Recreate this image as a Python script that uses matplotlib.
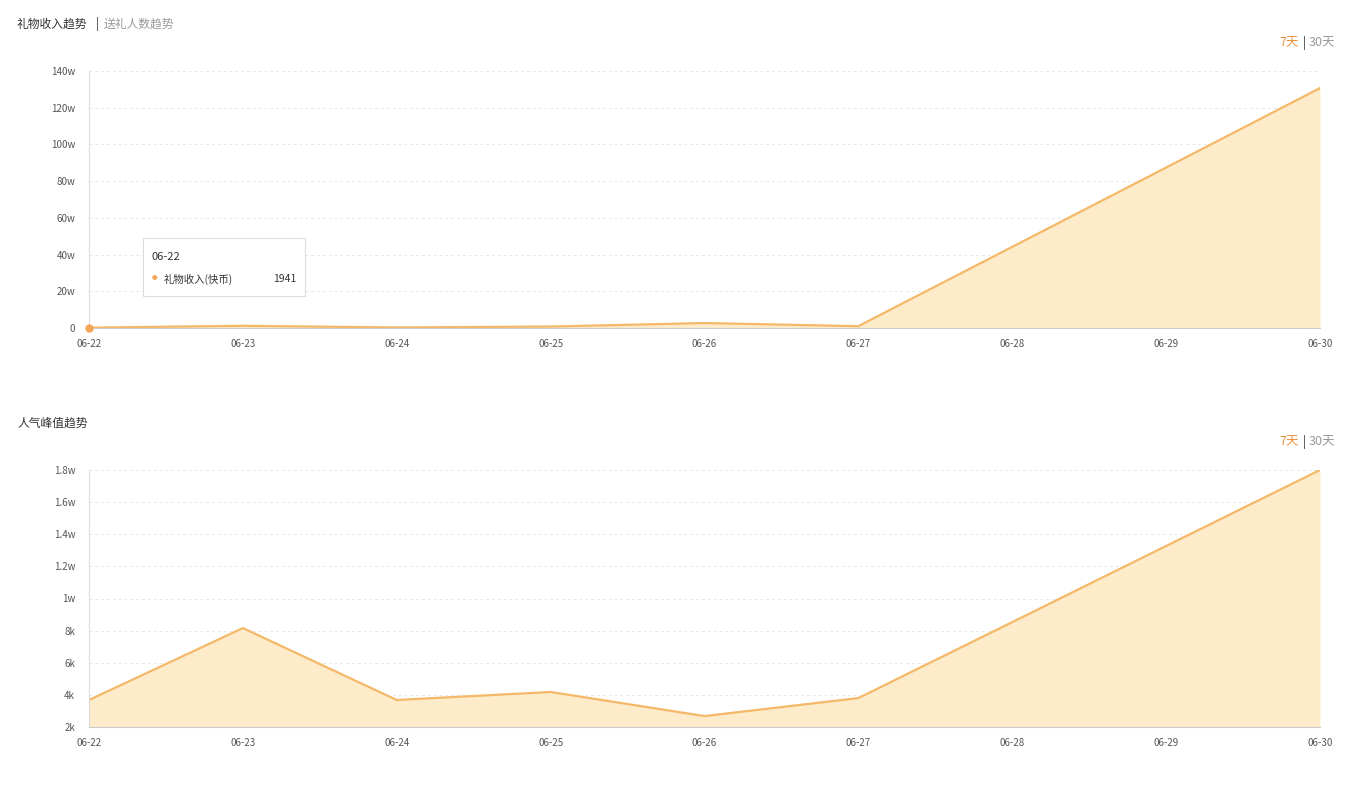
import matplotlib
matplotlib.use('Agg')
from matplotlib import pyplot as plt

plt.rcParams['font.family'] = ['Noto Sans CJK SC', 'DejaVu Sans']

dates = ['06-22', '06-23', '06-24', '06-25', '06-26', '06-27', '06-28', '06-29', '06-30']
gift_income = [1941, 12000, 3000, 8000, 27000, 10000, 442000, 874000, 1307000]   # 快币
peak_viewers = [3680, 8160, 3680, 4180, 2680, 3800, 8530, 13270, 18000]

gift_ticks = [0, 200000, 400000, 600000, 800000, 1000000, 1200000, 1400000]
gift_labels = ['0', '20w', '40w', '60w', '80w', '100w', '120w', '140w']
peak_ticks = [2000, 4000, 6000, 8000, 10000, 12000, 14000, 16000, 18000]
peak_labels = ['2k', '4k', '6k', '8k', '1w', '1.2w', '1.4w', '1.6w', '1.8w']

LINE = '#f5b868'
FILL = '#fdebc9'
W, H = 1356, 785

fig = plt.figure(figsize=(W / 100, H / 100), dpi=100)


def make_ax(top, bottom):
    return fig.add_axes([89 / W, 1 - bottom / H, (1320 - 89) / W, (bottom - top) / H])


def style(ax, ticks, labels):
    x = range(len(dates))
    ax.set_xlim(0, len(dates) - 1)
    ax.set_ylim(ticks[0], ticks[-1])
    ax.set_xticks(list(x))
    ax.set_xticklabels(dates)
    ax.set_yticks(ticks)
    ax.set_yticklabels(labels)
    ax.tick_params(labelsize=7, colors='#555555', length=0, pad=8)
    ax.tick_params(axis='y', pad=10)
    for t in ax.get_xticklabels() + ax.get_yticklabels():
        t.set_color('#555555')
    for s in ['top', 'right']:
        ax.spines[s].set_visible(False)
    ax.spines['left'].set_color('#dddddd')
    ax.spines['bottom'].set_color('#cccccc')
    ax.grid(axis='y', color='#e8e8e8', linestyle=(0, (3, 3)), linewidth=0.7)
    ax.set_axisbelow(True)


# 礼物收入
ax1 = make_ax(71, 328)
x = list(range(len(dates)))
ax1.fill_between(x, gift_income, 0, color=FILL, lw=0)
ax1.plot(x, gift_income, color=LINE, lw=1.6)
ax1.plot(0, gift_income[0], 'o', color='#f5a55a', ms=5, clip_on=False, zorder=5)
style(ax1, gift_ticks, gift_labels)

# tooltip
tip = ax1.annotate('06-22', xy=(152 / W, 1 - 257 / H), xycoords='figure fraction',
                   fontsize=8, color='#333333', va='center')
fig.patches.append(plt.Rectangle((143 / W, 1 - 296 / H), 162 / W, 58 / H,
                                 transform=fig.transFigure, fc='white', ec='#dddddd',
                                 lw=0.8, zorder=10))
fig.text(152 / W, 1 - 257 / H, '06-22', fontsize=8, color='#333333', va='center', zorder=11)
fig.text(152 / W, 1 - 279 / H, '●', fontsize=4, color='#f5a55a', va='center', zorder=11)
fig.text(164 / W, 1 - 279 / H, '礼物收入(快币)', fontsize=7.5, color='#333333', va='center', zorder=11)
fig.text(296 / W, 1 - 279 / H, str(gift_income[0]), fontsize=7.5, color='#333333',
         va='center', ha='right', zorder=11)
tip.remove()

# 人气峰值
ax2 = make_ax(470, 727)
ax2.fill_between(x, peak_viewers, 2000, color=FILL, lw=0)
ax2.plot(x, peak_viewers, color=LINE, lw=1.6)
style(ax2, peak_ticks, peak_labels)

# titles
fig.text(17 / W, 1 - 24 / H, '礼物收入趋势', fontsize=8.5, color='#333333', va='center')
fig.text(96 / W, 1 - 24 / H, '|', fontsize=8.5, color='#333333', va='center')
fig.text(104 / W, 1 - 24 / H, '送礼人数趋势', fontsize=8.5, color='#999999', va='center')
fig.text(17 / W, 1 - 423 / H, '人气峰值趋势', fontsize=8.5, color='#333333', va='center')

for yy in [43, 442]:
    fig.text(1299 / W, 1 - yy / H, '7天', fontsize=9, color='#e8913a', va='center', ha='right')
    fig.text(1304 / W, 1 - yy / H, '|', fontsize=9, color='#333333', va='center', ha='center')
    fig.text(1309 / W, 1 - yy / H, '30天', fontsize=9, color='#999999', va='center')

fig.savefig('out.png', dpi=100, facecolor='white')
